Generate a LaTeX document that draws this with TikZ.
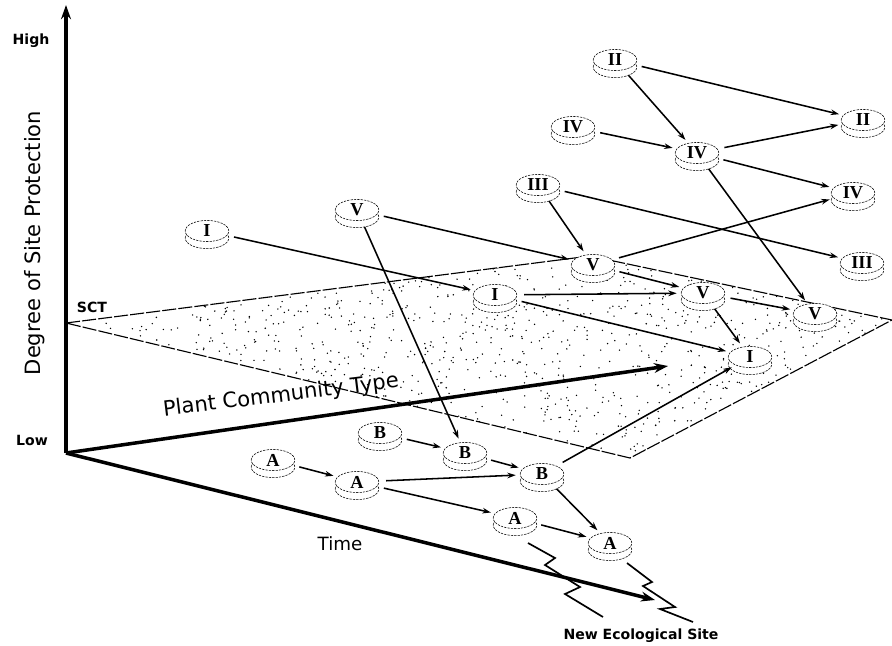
\documentclass[tikz,border=0pt]{standalone}
\usepackage{fontspec}
\setmainfont{Liberation Serif}
\setsansfont{DejaVu Sans}
\usepackage{tikz}
\usetikzlibrary{shapes.geometric,shadows,arrows.meta}

\begin{document}
\begin{tikzpicture}[x=0.025cm,y=-0.025cm,
	>={Stealth[length=6pt,width=4pt]},
	axis/.style={line width=2.5pt,-{Stealth[length=10pt,width=7pt]}},
	link/.style={->,line width=1.1pt,shorten <=5pt,shorten >=3pt},
	disc/.style={ellipse,draw,fill=white,dash pattern=on 1.6pt off 0.8pt,
		minimum width=31pt,minimum height=15pt,inner sep=0pt,font=\bfseries\fontsize{13}{13}\selectfont,
		general shadow={shadow xshift=0pt,shadow yshift=-5pt,fill=white,draw=black,dash pattern=on 1.6pt off 0.8pt}},
	small/.style={font=\sffamily\bfseries\fontsize{10}{12}\selectfont},
	big/.style={font=\sffamily\fontsize{15}{18}\selectfont}]
	\useasboundingbox (0,0) rectangle (892,645);
	% SCT plane
	\coordinate (p1) at (66,323);
	\coordinate (p2) at (590,256);
	\coordinate (p3) at (892,320);
	\coordinate (p4) at (630,458);
	\begin{scope}
		\clip (p1) -- (p2) -- (p3) -- (p4) -- cycle;
		\pgfmathsetseed{17}
		\foreach \k in {1,...,1600}
			\fill ({66+rnd*826},{252+rnd*206}) circle (0.55pt);
	\end{scope}
	\draw[line width=0.8pt,dash pattern=on 10pt off 1.5pt] (p1) -- (p2) -- (p3) -- (p4) -- cycle;
	\node[small] (sct) at (92,307) {SCT};
	% axes
	\coordinate (o) at (66,453);
	\coordinate (top) at (66,5);
	\coordinate (pct) at (668,366);
	\coordinate (tim) at (655,600);
	\draw[axis] (o) -- (top);
	\draw[axis] (o) -- (pct);
	\draw[axis] (o) -- (tim);
	\node[small] (high) at (31,41) {High};
	\node[small] (low) at (32,440) {Low};
	\node[big,rotate=90] (deg) at (35,243) {Degree of Site Protection};
	\node[big,rotate=7] (plant) at (281,396) {Plant Community Type};
	\node[font=\sffamily\fontsize{13}{15}\selectfont] (time) at (340,544) {Time};
	\node[small] (new) at (641,636) {New Ecological Site};
	% community types
	\node[disc] (i1) at (207,231) {I};
	\node[disc] (v1) at (357,210) {V};
	\node[disc] (iii1) at (538,185) {III};
	\node[disc] (iv1) at (573,127) {IV};
	\node[disc] (ii1) at (615,60) {II};
	\node[disc] (i2) at (495,295) {I};
	\node[disc] (v2) at (593,265) {V};
	\node[disc] (iv2) at (697,153) {IV};
	\node[disc] (v3) at (703,293) {V};
	\node[disc] (i3) at (750,357) {I};
	\node[disc] (v4) at (815,314) {V};
	\node[disc] (iv3) at (853,193) {IV};
	\node[disc] (ii2) at (863,120) {II};
	\node[disc] (iii2) at (862,263) {III};
	\node[disc] (a1) at (273,460) {A};
	\node[disc] (a2) at (357,482) {A};
	\node[disc] (b1) at (380,433) {B};
	\node[disc] (b2) at (465,453) {B};
	\node[disc] (b3) at (542,474) {B};
	\node[disc] (a3) at (515,518) {A};
	\node[disc] (a4) at (610,543) {A};
	% transitions
	\draw[link] (i1) -- (i2);
	\draw[link] (v1) -- (v2);
	\draw[link] (v1) -- (b2);
	\draw[link] (iii1) -- (v2);
	\draw[link] (iii1) -- (iii2);
	\draw[link] (v2) -- (iv3);
	\draw[link] (iv1) -- (iv2);
	\draw[link] (ii1) -- (iv2);
	\draw[link] (ii1) -- (ii2);
	\draw[link] (iv2) -- (ii2);
	\draw[link] (iv2) -- (iv3);
	\draw[link] (iv2) -- (v4);
	\draw[link] (v2) -- (v3);
	\draw[link] (i2) -- (v3);
	\draw[link] (i2) -- (i3);
	\draw[link] (v3) -- (i3);
	\draw[link] (v3) -- (v4);
	\draw[link] (b1) -- (b2);
	\draw[link] (b2) -- (b3);
	\draw[link] (a1) -- (a2);
	\draw[link] (a2) -- (b3);
	\draw[link] (a2) -- (a3);
	\draw[link] (a3) -- (a4);
	\draw[link] (b3) -- (a4);
	\draw[link] (b3) -- (i3);
	% jumps to a new site
	\draw[line width=1.2pt] (528,543) -- (555,558) -- (545,565) -- (580,587) -- (565,594) -- (603,617);
	\draw[line width=1.2pt] (627,563) -- (652,582) -- (643,586) -- (675,607) -- (660,609) -- (693,622);
\end{tikzpicture}
\end{document}
